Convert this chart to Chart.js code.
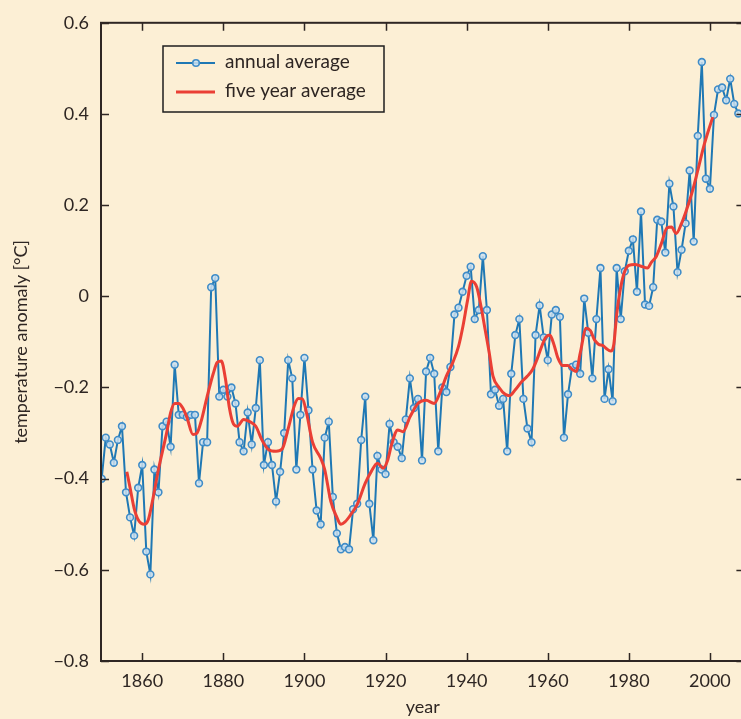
<!DOCTYPE html>
<html>
<head>
<meta charset="utf-8">
<script src="https://cdn.jsdelivr.net/npm/chart.js@4.4.1/dist/chart.umd.min.js"></script>
<style>
  html, body { margin: 0; padding: 0; background: #fcefd5; overflow: hidden; }
  #wrap { position: relative; width: 750px; height: 719px; }
</style>
</head>
<body>
<div id="wrap"><canvas id="graph"></canvas></div>
<script>
// annual global temperature anomaly, one value per year from 1850
const firstYear = 1850;
const annualValues = [
  -0.40, -0.31, -0.325, -0.365, -0.315, -0.285, -0.43, -0.485, -0.525, -0.42,
  -0.37, -0.56, -0.61, -0.38, -0.43, -0.285, -0.275, -0.33, -0.15, -0.26,
  -0.26, -0.265, -0.26, -0.26, -0.41, -0.32, -0.32, 0.02, 0.04, -0.22,
  -0.205, -0.22, -0.20, -0.235, -0.32, -0.34, -0.255, -0.325, -0.245, -0.14,
  -0.37, -0.32, -0.37, -0.45, -0.385, -0.30, -0.14, -0.18, -0.38, -0.26,
  -0.135, -0.25, -0.38, -0.47, -0.50, -0.31, -0.275, -0.44, -0.52, -0.555,
  -0.55, -0.555, -0.467, -0.455, -0.315, -0.22, -0.455, -0.535, -0.35, -0.38,
  -0.39, -0.28, -0.32, -0.33, -0.355, -0.27, -0.18, -0.245, -0.225, -0.36,
  -0.165, -0.135, -0.17, -0.34, -0.20, -0.21, -0.155, -0.04, -0.025, 0.01,
  0.045, 0.065, -0.05, -0.03, 0.088, -0.03, -0.215, -0.205, -0.24, -0.225,
  -0.34, -0.17, -0.085, -0.05, -0.225, -0.29, -0.32, -0.085, -0.02, -0.09,
  -0.14, -0.04, -0.03, -0.045, -0.31, -0.215, -0.155, -0.15, -0.17, -0.005,
  -0.08, -0.18, -0.05, 0.062, -0.225, -0.16, -0.23, 0.062, -0.05, 0.055,
  0.10, 0.125, 0.01, 0.186, -0.018, -0.021, 0.02, 0.168, 0.164, 0.096,
  0.247, 0.197, 0.053, 0.102, 0.16, 0.276, 0.12, 0.352, 0.514, 0.258,
  0.236, 0.398, 0.454, 0.458, 0.43, 0.477, 0.422, 0.401
];
const annualYears = Array.from({ length: annualValues.length }, (_, i) => firstYear + i);

// five year average
const smoothYears = [
  1856.2, 1857, 1858, 1859, 1860.5, 1861.5, 1862.5, 1864, 1866, 1867,
  1868, 1869, 1870, 1871, 1872.5, 1873.5, 1874.5, 1876, 1877.5, 1878.5,
  1879.5, 1880.5, 1881.5, 1882.5, 1883.5, 1885, 1886.5, 1888, 1889.5, 1891,
  1893, 1894.5, 1896, 1897.5, 1898.5, 1899.5, 1900.5, 1902, 1904, 1905,
  1906.5, 1908, 1909, 1910, 1911.5, 1913, 1915, 1916.5, 1918, 1919.4,
  1920.5, 1921.5, 1923, 1924.3, 1926, 1928, 1930, 1932, 1933.5, 1935,
  1936.6, 1938, 1939.1, 1940.2, 1941.2, 1942.5, 1943.5, 1944.5, 1945.5, 1946.5,
  1948, 1949.5, 1950.6, 1952, 1953.5, 1955, 1956.3, 1957.5, 1958.5, 1959.5,
  1960.5, 1961.5, 1962.5, 1963.7, 1965, 1966, 1967, 1968, 1969.5, 1970.5,
  1971.5, 1972.5, 1973.6, 1974.5, 1975.5, 1976.3, 1977, 1977.8, 1978.8, 1980,
  1981.5, 1983, 1984.6, 1985.6, 1986.8, 1988, 1989.4, 1990.5, 1991.7, 1993,
  1994.2, 1995.5, 1997, 1998.5, 1999.5, 2000.7
];
const smoothValues = [
  -0.385, -0.42, -0.465, -0.49, -0.50, -0.49, -0.45, -0.38, -0.30, -0.255,
  -0.235, -0.235, -0.245, -0.265, -0.303, -0.30, -0.275, -0.22, -0.17, -0.145,
  -0.142, -0.18, -0.245, -0.28, -0.285, -0.27, -0.275, -0.285, -0.315, -0.335,
  -0.34, -0.335, -0.29, -0.24, -0.224, -0.225, -0.255, -0.32, -0.355, -0.38,
  -0.45, -0.485, -0.50, -0.495, -0.478, -0.457, -0.41, -0.384, -0.366, -0.377,
  -0.36, -0.325, -0.293, -0.297, -0.265, -0.235, -0.228, -0.235, -0.21, -0.175,
  -0.145, -0.11, -0.065, -0.01, 0.033, 0.02, -0.02, -0.07, -0.12, -0.175,
  -0.20, -0.215, -0.218, -0.205, -0.188, -0.175, -0.16, -0.135, -0.11, -0.09,
  -0.085, -0.105, -0.135, -0.152, -0.152, -0.16, -0.165, -0.125, -0.07, -0.075,
  -0.095, -0.105, -0.108, -0.115, -0.12, -0.105, -0.04, 0.01, 0.05, 0.068,
  0.07, 0.066, 0.062, 0.075, 0.088, 0.115, 0.15, 0.152, 0.138, 0.16,
  0.189, 0.225, 0.276, 0.33, 0.36, 0.393
];

const xTicks = [1860, 1880, 1900, 1920, 1940, 1960, 1980, 2000];
const yTicks = [-0.8, -0.6, -0.4, -0.2, 0, 0.2, 0.4, 0.6];
const seriesNames = ['annual average', 'five year average'];

const bg = '#fcefd5';
const ink = '#2e2623';
const blue = '#1f78b4';
const ring = '#3f8cc8';
const dotFill = 'rgba(205,225,240,0.85)';
const red = '#ea3f35';
const fontFamily = 'Lato, "Open Sans", sans-serif';

const yLabel = v => {
  if (Math.abs(v) < 1e-9) return '0';
  return (v < 0 ? '\u2212' : '') + Math.abs(v).toFixed(1);
};

// frame, inward ticks and the boxed legend
const framePlugin = {
  id: 'framePlugin',
  beforeDraw(chart) {
    const ctx = chart.ctx;
    ctx.save();
    ctx.fillStyle = bg;
    ctx.fillRect(0, 0, chart.width, chart.height);
    ctx.restore();
  },
  afterDraw(chart) {
    const { ctx, chartArea: a, scales } = chart;
    ctx.save();
    ctx.strokeStyle = ink;
    ctx.lineWidth = 2;
    ctx.strokeRect(a.left, a.top, a.right - a.left, a.bottom - a.top);
    ctx.lineWidth = 1.5;
    ctx.beginPath();
    xTicks.forEach(v => {
      const px = Math.round(scales.x.getPixelForValue(v)) + 0.5;
      ctx.moveTo(px, a.bottom); ctx.lineTo(px, a.bottom - 8);
      ctx.moveTo(px, a.top); ctx.lineTo(px, a.top + 8);
    });
    yTicks.forEach(v => {
      const py = Math.round(scales.y.getPixelForValue(v)) + 0.5;
      ctx.moveTo(a.left, py); ctx.lineTo(a.left + 8, py);
      ctx.moveTo(a.right, py); ctx.lineTo(a.right - 8, py);
    });
    ctx.stroke();

    // legend
    const lx = 163, ly = 46, lw = 221, lh = 66;
    ctx.fillStyle = bg;
    ctx.fillRect(lx, ly, lw, lh);
    ctx.strokeStyle = '#1e1e1e';
    ctx.lineWidth = 1.5;
    ctx.strokeRect(lx, ly, lw, lh);

    ctx.lineWidth = 2;
    ctx.strokeStyle = blue;
    ctx.beginPath(); ctx.moveTo(176, 63); ctx.lineTo(215, 63); ctx.stroke();
    ctx.beginPath(); ctx.arc(196, 63, 3.3, 0, Math.PI * 2);
    ctx.fillStyle = dotFill; ctx.fill();
    ctx.lineWidth = 1.6; ctx.strokeStyle = ring; ctx.stroke();

    ctx.lineWidth = 3;
    ctx.strokeStyle = red;
    ctx.beginPath(); ctx.moveTo(176, 92); ctx.lineTo(215, 92); ctx.stroke();

    ctx.fillStyle = ink;
    ctx.font = '19px ' + fontFamily;
    ctx.textBaseline = 'middle';
    ctx.textAlign = 'left';
    ctx.fillText(seriesNames[0], 225, 62);
    ctx.fillText(seriesNames[1], 225, 91);
    ctx.restore();
  }
};

new Chart(document.getElementById('graph'), {
  type: 'line',
  data: {
    datasets: [
      {
        label: seriesNames[0],
        data: annualYears.map((yr, i) => ({ x: yr, y: annualValues[i] })),
        borderColor: blue,
        borderWidth: 2,
        pointRadius: 3.4,
        pointBorderWidth: 1.6,
        pointBorderColor: ring,
        pointBackgroundColor: dotFill,
        tension: 0,
        order: 2
      },
      {
        label: seriesNames[1],
        data: smoothYears.map((yr, i) => ({ x: yr, y: smoothValues[i] })),
        borderColor: red,
        borderWidth: 3,
        pointRadius: 0,
        cubicInterpolationMode: 'monotone',
        order: 1
      }
    ]
  },
  options: {
    responsive: true,
    maintainAspectRatio: false,
    animation: false,
    layout: { padding: { top: 18, right: 5, left: 0, bottom: 0 } },
    plugins: {
      legend: { display: false },
      tooltip: { enabled: false }
    },
    scales: {
      x: {
        type: 'linear',
        min: 1849.83,
        max: 2008.5,
        afterFit(s) { s.height = 58; },
        afterBuildTicks(s) { s.ticks = xTicks.map(v => ({ value: v })); },
        grid: { drawOnChartArea: false, drawTicks: false },
        border: { display: false },
        ticks: {
          color: ink,
          font: { family: fontFamily, size: 18 },
          padding: 9,
          maxRotation: 0,
          autoSkip: false,
          callback: v => String(v)
        },
        title: {
          display: true,
          text: 'year',
          color: ink,
          font: { family: fontFamily, size: 18 },
          padding: { top: 0, bottom: 1 }
        }
      },
      y: {
        type: 'linear',
        min: -0.8,
        max: 0.6,
        afterFit(s) { s.width = 101; },
        afterBuildTicks(s) { s.ticks = yTicks.map(v => ({ value: v })); },
        grid: { drawOnChartArea: false, drawTicks: false },
        border: { display: false },
        ticks: {
          color: ink,
          font: { family: fontFamily, size: 18 },
          padding: 12,
          autoSkip: false,
          callback: v => yLabel(v)
        },
        title: {
          display: true,
          text: 'temperature anomaly [°C]',
          color: ink,
          font: { family: fontFamily, size: 18 },
          padding: { top: 10, bottom: 0 }
        }
      }
    }
  },
  plugins: [framePlugin]
});
</script>
</body>
</html>
